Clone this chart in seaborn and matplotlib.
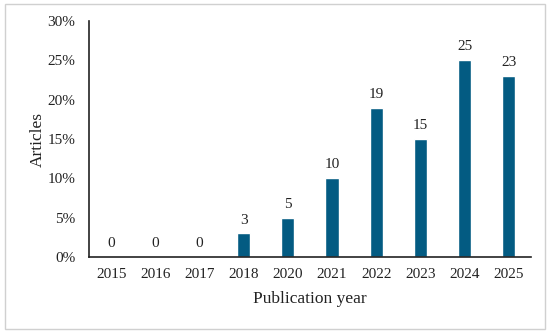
import matplotlib
matplotlib.use("Agg")
import matplotlib.pyplot as plt
import seaborn as sns
import pandas as pd
from matplotlib.patches import Rectangle
from matplotlib.ticker import FuncFormatter

years = ["2015", "2016", "2017", "2018", "2020", "2021", "2022", "2023", "2024", "2025"]
articles = [0, 0, 0, 3, 5, 10, 19, 15, 25, 23]
share_pct = [0, 0, 0, 3, 5, 10, 19, 15, 25, 23]

df = pd.DataFrame({"year": years, "share": share_pct})

sns.set_theme(style="white")
plt.rcParams["font.family"] = ["Liberation Serif", "DejaVu Serif"]

fig = plt.figure(figsize=(5.5, 3.33), dpi=100)
ax = fig.add_axes([0.162, 0.228, 0.803, 0.709])
sns.barplot(data=df, x="year", y="share", color="#035b82", saturation=1,
            width=0.3, ax=ax)
ax.bar_label(ax.containers[0], labels=[str(v) for v in articles],
             padding=5, fontsize=11, color="#222222")
ax.set_ylim(0, 30)
ax.set_xlim(-0.5, len(years) - 0.5)
ax.set_yticks([0, 5, 10, 15, 20, 25, 30])
ax.yaxis.set_major_formatter(FuncFormatter(lambda v, p: f"{int(v)}%"))
ax.tick_params(axis="both", length=0, labelsize=11, colors="#222222")
ax.tick_params(axis="x", pad=8)
ax.tick_params(axis="y", pad=10)
for s in ["top", "right"]:
    ax.spines[s].set_visible(False)
for s in ["left", "bottom"]:
    ax.spines[s].set_color("#222222")
    ax.spines[s].set_linewidth(1.2)
ax.set_xlabel("Publication year", fontsize=12.5, color="#222222", labelpad=7)
ax.set_ylabel("Articles", fontsize=12.5, color="#222222", labelpad=1)
fig.patches.append(Rectangle((0.009, 0.012), 0.982, 0.976, transform=fig.transFigure,
                             fill=False, edgecolor="#d0d0d0", linewidth=1))
fig.savefig("out.png", dpi=100)
